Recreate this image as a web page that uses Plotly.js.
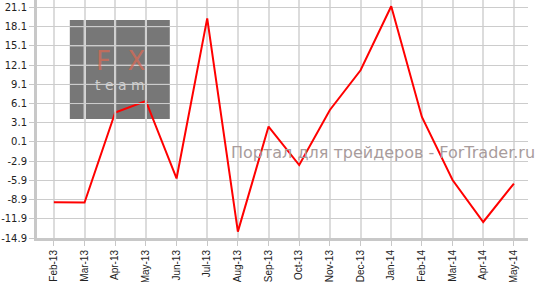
<!DOCTYPE html>
<html><head><meta charset="utf-8">
<script src="https://cdn.plot.ly/plotly-3.0.1.min.js"></script>
<style>html,body{margin:0;padding:0;background:#fff}#c{width:544px;height:282px}</style>
</head><body><div id="c"></div>
<script>
var months = ["Feb-13","Mar-13","Apr-13","May-13","Jun-13","Jul-13","Aug-13","Sep-13","Oct-13","Nov-13","Dec-13","Jan-14","Feb-14","Mar-14","Apr-14","May-14"];
var values = [-9.3,-9.35,4.7,6.5,-5.6,19.4,-13.9,2.5,-3.5,5.1,11.3,21.3,4.0,-5.85,-12.4,-6.4];
var yTicks = [21.1,18.1,15.1,12.1,9.1,6.1,3.1,0.1,-2.9,-5.9,-8.9,-11.9,-14.9];
var yTickText = ["21.1","18.1","15.1","12.1","9.1","6.1","3.1","0.1","-2.9","-5.9","-8.9","-11.9","-14.9"];
var watermark = "Портал для трейдеров - ForTrader.ru";

var xIdx = months.map(function(_, i){ return i; });
var xRange = [-0.55, 15.46], yRange = [-14.9, 22.27];
var box = {x0: 0.52, x1: 3.78, y0: 3.68, y1: 19.15};
var trace = {x: xIdx, y: values, type: "scatter", mode: "lines",
  line: {color: "#ff0000", width: 2}, hoverinfo: "skip"};

var shapes = [{type: "rect", xref: "x", yref: "y", layer: "below",
  x0: box.x0, x1: box.x1, y0: box.y0, y1: box.y1, fillcolor: "#777777", line: {width: 0}}];
// the reference's grid shows through the logo box: repeat grid lines that cross it
xIdx.forEach(function(i){
  if (i > box.x0 && i < box.x1)
    shapes.push({type: "line", xref: "x", yref: "y", layer: "above", x0: i, x1: i, y0: box.y0, y1: box.y1,
      line: {color: "#cfcfcf", width: 2}});
});
yTicks.forEach(function(v){
  if (v > box.y0 && v < box.y1)
    shapes.push({type: "line", xref: "x", yref: "y", layer: "above", x0: box.x0, x1: box.x1, y0: v, y1: v,
      line: {color: "#cccccc", width: 1}});
});

var layout = {
  width: 544, height: 282,
  margin: {l: 37, r: 16, t: 0, b: 44},
  paper_bgcolor: "#fff", plot_bgcolor: "#fff",
  showlegend: false,
  font: {family: "DejaVu Sans, Verdana, sans-serif", size: 10, color: "#222"},
  xaxis: {range: xRange, tickvals: xIdx, ticktext: months, tickangle: -90,
    showgrid: true, gridcolor: "#dcdcdc", gridwidth: 2, zeroline: false,
    showline: true, linecolor: "#c8c8c8", linewidth: 3,
    ticks: "outside", ticklen: 5, tickcolor: "#c8c8c8", tickwidth: 1,
    tickfont: {family: "Liberation Sans, Arial, sans-serif", size: 10, color: "#222"}},
  yaxis: {range: yRange, tickvals: yTicks, ticktext: yTickText,
    showgrid: true, gridcolor: "#cccccc", gridwidth: 1, zeroline: false,
    showline: true, linecolor: "#c8c8c8", linewidth: 3,
    ticks: "outside", ticklen: 5, tickcolor: "#c8c8c8", tickwidth: 1,
    tickfont: {size: 10, color: "#222"}},
  shapes: shapes,
  annotations: [
    {xref: "paper", yref: "paper", x: (120-37)/491, y: (238-61)/238, text: "F  X",
     showarrow: false, font: {family: "DejaVu Sans", size: 26, color: "#d86a55"}, xanchor: "center", yanchor: "middle", opacity: 0.75},
    {xref: "paper", yref: "paper", x: (120-37)/491, y: (238-85)/238, text: "t e a m",
     showarrow: false, font: {family: "DejaVu Sans", size: 14, color: "#cfcfcf"}, xanchor: "center", yanchor: "middle"},
    {xref: "paper", yref: "paper", x: (537-37)/491, y: (238-152)/238, text: watermark,
     showarrow: false, font: {family: "DejaVu Sans", size: 16, color: "#a89c9c"}, xanchor: "right", yanchor: "middle"}
  ]
};
Plotly.newPlot("c", [trace], layout, {staticPlot: true, displayModeBar: false});
</script></body></html>
